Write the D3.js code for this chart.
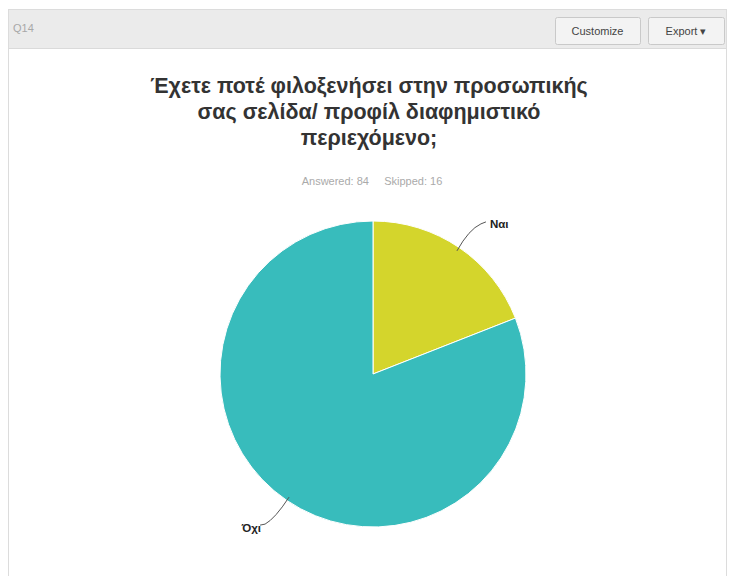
<!DOCTYPE html>
<html>
<head>
<meta charset="utf-8">
<script src="https://cdn.jsdelivr.net/npm/d3@7"></script>
<style>
  html, body { margin: 0; padding: 0; background: #fff; }
  svg { display: block; font-family: "Liberation Sans", Arial, sans-serif; }
</style>
</head>
<body>
<svg id="chart" width="731" height="576"></svg>
<script>
// Survey question Q14 – answer counts
const categories = ["Ναι", "Όχι"];
const counts = [16, 68];
const colors = ["#d4d52c", "#38bcbc"];
const titleLines = [
  "Έχετε ποτέ φιλοξενήσει στην προσωπικής",
  "σας σελίδα/ προφίλ διαφημιστικό",
  "περιεχόμενο;"
];
const questionId = "Q14";
const answered = 84;
const skipped = 16;

const svg = d3.select("#chart");

// panel frame
svg.append("rect").attr("x", 8.5).attr("y", 9.5).attr("width", 718).attr("height", 580)
  .attr("fill", "#fff").attr("stroke", "#dcdcdc");
// header bar
svg.append("rect").attr("x", 9).attr("y", 10).attr("width", 717).attr("height", 38)
  .attr("fill", "#ebebeb");
svg.append("line").attr("x1", 9).attr("x2", 726).attr("y1", 48.5).attr("y2", 48.5)
  .attr("stroke", "#dadada");
svg.append("text").attr("x", 13).attr("y", 32).attr("font-size", 11).attr("fill", "#a8a8a8")
  .text(questionId);

// header buttons
const buttons = [
  { label: "Customize", x: 555, w: 85 },
  { label: "Export ▾", x: 648, w: 76 }
];
const btn = svg.selectAll("g.btn").data(buttons).join("g").attr("class", "btn");
btn.append("rect").attr("x", d => d.x + 0.5).attr("y", 17.5).attr("width", d => d.w)
  .attr("height", 27).attr("rx", 2).attr("fill", "#f3f3f3").attr("stroke", "#c9c9c9");
btn.append("text").attr("x", d => d.x + d.w / 2).attr("y", 35).attr("text-anchor", "middle")
  .attr("font-size", 11).attr("fill", "#444").text(d => d.label);

// title
svg.append("g").selectAll("text").data(titleLines).join("text")
  .attr("x", 369).attr("y", (d, i) => 93 + i * 26)
  .attr("text-anchor", "middle").attr("font-size", 21.5).attr("font-weight", "bold")
  .attr("fill", "#333").text(d => d);

svg.append("text").attr("x", 372).attr("y", 185).attr("text-anchor", "middle")
  .attr("font-size", 11).attr("fill", "#aaa").attr("xml:space", "preserve")
  .text(`Answered: ${answered}     Skipped: ${skipped}`);

// pie
const cx = 373, cy = 374, R = 153;
const pie = d3.pie().sort(null).value(d => d)(counts);
const arc = d3.arc().innerRadius(0).outerRadius(R);
const g = svg.append("g").attr("transform", `translate(${cx},${cy})`);
g.selectAll("path").data(pie).join("path")
  .attr("d", arc).attr("fill", (d, i) => colors[i])
  .attr("stroke", "#fff").attr("stroke-width", 1);

// data labels with curved connectors
const edge = d3.arc().innerRadius(R - 4).outerRadius(R - 4);
const labels = g.selectAll("g.lbl").data(pie).join("g").attr("class", "lbl");
labels.append("path")
  .attr("fill", "none").attr("stroke", "#555").attr("stroke-width", 1)
  .attr("d", d => {
    const mid = (d.startAngle + d.endAngle) / 2;
    const [x0, y0] = edge.centroid(d);
    const right = Math.sin(mid) >= 0;
    const up = Math.cos(mid) > 0;
    const x1 = x0 + (right ? 24 : -24);
    const y1 = y0 + (up ? -27 : 27);
    const x2 = x1 + (right ? 5 : -5);
    return `M${x0},${y0} Q${x0 + (right ? 12 : -14)},${(y0 + y1) / 2 + (up ? -8 : 8)} ${x1},${y1} L${x2},${y1 + (up ? -2 : 1)}`;
  });
labels.append("text")
  .attr("x", d => {
    const mid = (d.startAngle + d.endAngle) / 2;
    const [x0] = edge.centroid(d);
    return Math.sin(mid) >= 0 ? x0 + 33 : x0 - 28;
  })
  .attr("y", d => {
    const mid = (d.startAngle + d.endAngle) / 2;
    const [, y0] = edge.centroid(d);
    return Math.cos(mid) > 0 ? y0 - 23 : y0 + 35;
  })
  .attr("text-anchor", d => Math.sin((d.startAngle + d.endAngle) / 2) >= 0 ? "start" : "end")
  .attr("font-size", 11.5).attr("font-weight", "bold").attr("fill", "#222")
  .text((d, i) => categories[i]);
</script>
</body>
</html>
